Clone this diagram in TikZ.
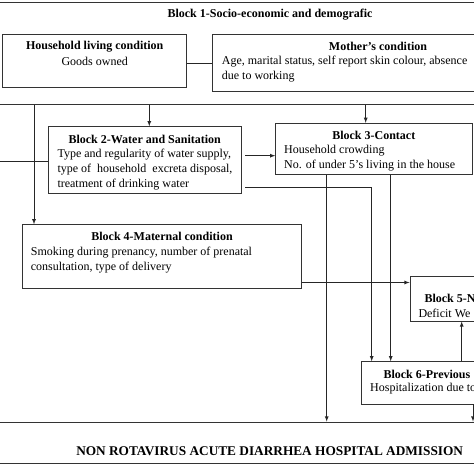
\documentclass[tikz,border=0pt]{standalone}
\usepackage{fontspec}
\setmainfont{Liberation Serif}
\usetikzlibrary{arrows}

\begin{document}
\begin{tikzpicture}[x=1pt,y=-1pt,>=latex,
	box/.style={draw=black!80,line width=0.9pt,inner sep=0pt},
	txt/.style={inner sep=0pt,font=\fontsize{12}{15}\selectfont},
	ttl/.style={inner sep=0pt,font=\fontsize{12}{15}\selectfont\bfseries},
	link/.style={draw=black!85,line width=0.8pt}]
	\useasboundingbox (0,0) rectangle (474,474);
	\clip (0,0) rectangle (474,474);
	\fill [white] (0,0) rectangle (474,474);
	% boxes
	\node [box,minimum width=520pt,minimum height=101.6pt] (b1) at (237,53.5) {};
	\node [box,minimum width=184pt,minimum height=53.7pt] (hh) at (94.7,60.85) {};
	\node [box,minimum width=347.7pt,minimum height=57.7pt] (mc) at (386.2,62.85) {};
	\node [box,minimum width=192.7pt,minimum height=66.6pt] (b2) at (144.65,160) {};
	\node [box,minimum width=196.3pt,minimum height=51pt] (b3) at (373.85,148.8) {};
	\node [box,minimum width=279.4pt,minimum height=64pt] (b4) at (162,256.3) {};
	\node [box,minimum width=130pt,minimum height=45pt] (b5) at (475,298.5) {};
	\node [box,minimum width=199pt,minimum height=42.3pt] (b6) at (460.5,382.85) {};
	\node [box,minimum width=520pt,minimum height=41.7pt] (out) at (237,442.85) {};
	%
	\node [ttl] (t1) at (270,15) {Block 1-Socio-economic and demografic};
	\node [ttl] (thh) at (94.7,46.7) {Household living condition};
	\node [txt] (xhh) at (94.7,61) {Goods owned};
	\node [ttl] (tmc) at (378,46.7) {Mother’s condition};
	\node [txt,anchor=west,align=left] (xmc) at (221.7,69) {Age, marital status, self report skin colour, absence\\due to working};
	\node [ttl] (t2) at (144.7,139.3) {Block 2-Water and Sanitation};
	\node [txt,anchor=west,align=left] (x2) at (57.3,170) {Type and regularity of water supply,\\type of \ household \ excreta disposal,\\treatment of drinking water};
	\node [ttl] (t3) at (373.8,135) {Block 3-Contact};
	\node [txt,anchor=west,align=left] (x3) at (284,158.3) {Household crowding\\No. of under 5’s living in the house};
	\node [ttl] (t4) at (162,236.7) {Block 4-Maternal condition};
	\node [txt,anchor=west,align=left] (x4) at (30.7,260.2) {Smoking during prenancy, number of prenatal\\consultation, type of delivery};
	\node [ttl,anchor=west] (t5) at (424.3,298.3) {Block 5-N};
	\node [txt,anchor=west] (x5) at (418.3,313.3) {Deficit We};
	\node [ttl,anchor=west] (t6) at (383.3,374.3) {Block 6-Previous};
	\node [txt,anchor=west] (x6) at (370,389) {Hospitalization due to};
	\node [ttl,font=\fontsize{13.3}{16}\selectfont\bfseries] (tout) at (269.7,450.7) {NON ROTAVIRUS ACUTE DIARRHEA HOSPITAL ADMISSION};
	%
	\coordinate (p1) at (34,224.3);
	\coordinate (p2) at (149.3,0);
	\coordinate (p3) at (365.7,0);
	\coordinate (p4) at (-5,161.7);
	\coordinate (p5) at (245,155.7);
	\coordinate (p6) at (245,187.3);
	\coordinate (p7) at (371.7,0);
	\coordinate (p8) at (326.7,0);
	\coordinate (p9) at (390.7,0);
	\coordinate (p10) at (0,282.5);
	\coordinate (p11) at (461.7,0);
	\coordinate (p12) at (473,0);
	%
	\draw [link] (hh.east |- 0,63) -- (mc.west |- 0,63);
	\draw [link,->] (b1.south -| p1) -- (p1);
	\draw [link,->] (b1.south -| p2) -- (b2.north -| p2);
	\draw [link,->] (b1.south -| p3) -- (b3.north -| p3);
	\draw [link] (p4) -- (b2.west |- p4);
	\draw [link,->] (p5) -- (b3.west |- p5);
	\draw [link,->] (p6) -| (b6.north -| p7);
	\draw [link,->] (b3.south -| p8) -- (out.north -| p8);
	\draw [link,->] (b3.south -| p9) -- (b6.north -| p9);
	\draw [link,->] (b4.east |- p10) -- (b5.west |- p10);
	\draw [link,->] (b6.north -| p11) -- (b5.south -| p11);
	\draw [link,->] (b6.south -| p12) -- (out.north -| p12);
\end{tikzpicture}
\end{document}
